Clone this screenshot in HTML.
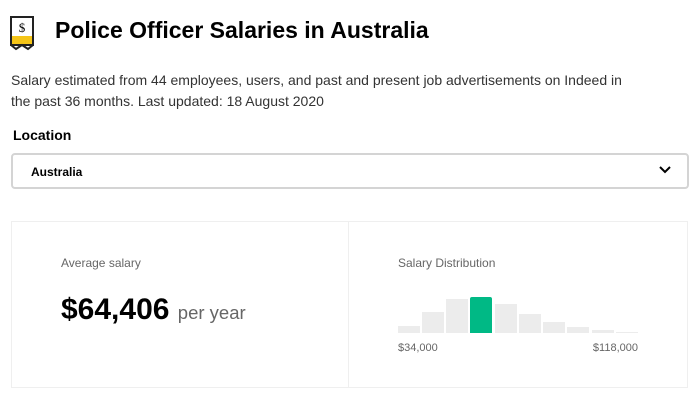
<!DOCTYPE html>
<html><head><meta charset="utf-8"><style>
body{margin:0;width:699px;height:405px;background:#fff;font-family:"Liberation Sans",Arial,sans-serif;position:relative;overflow:hidden;color:#000}
.a{position:absolute;white-space:nowrap}
.bar{position:absolute;background:#ececec;width:22px;bottom:72px}
</style></head><body>
<svg class="a" style="left:10px;top:16px" width="26" height="36" viewBox="0 0 26 36">
<rect x="1" y="1" width="22" height="28" fill="#fff" stroke="#222" stroke-width="2"/>
<rect x="2" y="20" width="20" height="8" fill="#f5c518"/>
<path d="M1 29 L6 33 L12 29 L18 33 L23 29" fill="none" stroke="#222" stroke-width="2"/>
<text x="12" y="16" font-size="13" text-anchor="middle" font-family="Liberation Serif,serif">$</text>
</svg>
<div class="a" style="left:55px;top:17px;font-size:23px;font-weight:bold">Police Officer Salaries in Australia</div>
<div class="a" style="left:11px;top:70px;font-size:14px;color:#333;line-height:21px">Salary estimated from 44 employees, users, and past and present job advertisements on Indeed in<br>the past 36 months. Last updated: 18 August 2020</div>
<div class="a" style="left:13px;top:127px;font-size:14px;font-weight:bold">Location</div>
<div class="a" style="left:11px;top:153px;width:674px;height:32px;border:2px solid #d4d4d4;border-radius:4px"></div>
<div class="a" style="left:31px;top:165px;font-size:12px;font-weight:bold">Australia</div>
<svg class="a" style="left:658px;top:165px" width="14" height="10"><path d="M2 2 L7 7 L12 2" fill="none" stroke="#000" stroke-width="2"/></svg>
<div class="a" style="left:11px;top:221px;width:675px;height:165px;border:1px solid #efefef"></div>
<div class="a" style="left:348px;top:222px;width:1px;height:165px;background:#efefef"></div>
<div class="a" style="left:61px;top:256px;font-size:12px;color:#666">Average salary</div>
<div class="a" style="left:61px;top:293px;font-size:30px;font-weight:bold">$64,406 <span style="font-size:18.5px;font-weight:normal;color:#666">per year</span></div>
<div class="a" style="left:398px;top:256px;font-size:12px;color:#666">Salary Distribution</div>
<div class="bar" style="left:398px;height:7px"></div>
<div class="bar" style="left:422px;height:21px"></div>
<div class="bar" style="left:446px;height:34px"></div>
<div class="bar" style="left:470px;height:36px;background:#00b985;border-radius:2px 2px 0 0"></div>
<div class="bar" style="left:495px;height:29px"></div>
<div class="bar" style="left:519px;height:19px"></div>
<div class="bar" style="left:543px;height:11px"></div>
<div class="bar" style="left:567px;height:6px"></div>
<div class="bar" style="left:592px;height:3px"></div>
<div class="bar" style="left:616px;height:1px"></div>
<div class="a" style="left:398px;top:342px;font-size:11px;color:#666">$34,000</div>
<div class="a" style="left:578px;top:342px;font-size:11px;color:#666;width:60px;text-align:right">$118,000</div>
</body></html>
